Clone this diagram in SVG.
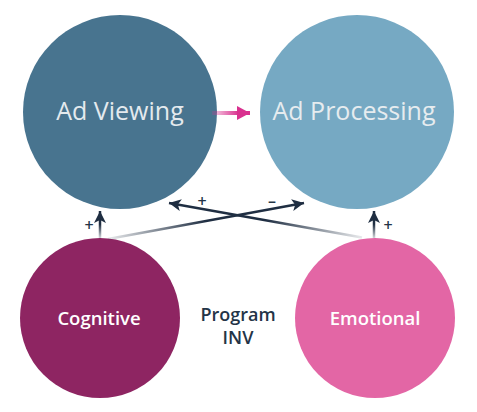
<svg xmlns="http://www.w3.org/2000/svg" width="477" height="412" viewBox="0 0 477 412">
<style>
.big{font-family:"Open Sans","Liberation Sans",sans-serif;font-size:25px;text-anchor:middle}
.small{font-family:"Open Sans","Liberation Sans",sans-serif;font-size:18.5px;font-weight:600;text-anchor:middle;fill:#ffffff}
.prog{font-family:"Open Sans","Liberation Sans",sans-serif;font-size:18px;font-weight:600;text-anchor:middle;fill:#243447}
.sign{font-family:"Open Sans","Liberation Sans",sans-serif;font-size:16px;font-weight:600;text-anchor:middle;fill:#243447}
.dk{stroke-width:2.5;fill:none}
</style>
<defs>
<marker id="ah" markerUnits="userSpaceOnUse" markerWidth="14" markerHeight="14" refX="12" refY="6" orient="auto">
<polygon points="0,0 12,6 0,12 3,6" fill="#1f2e42"/>
</marker>
<marker id="ahp" markerUnits="userSpaceOnUse" markerWidth="16" markerHeight="16" refX="13" refY="7" orient="auto">
<polygon points="0,0 13,7 0,14" fill="#d9318f"/>
</marker>
<linearGradient id="g1" gradientUnits="userSpaceOnUse" x1="108" y1="239" x2="304" y2="203">
<stop offset="0" stop-color="#1f2e42" stop-opacity="0.1"/><stop offset="0.5" stop-color="#1f2e42"/><stop offset="1" stop-color="#1f2e42"/>
</linearGradient>
<linearGradient id="g2" gradientUnits="userSpaceOnUse" x1="362" y1="237.5" x2="169" y2="203">
<stop offset="0" stop-color="#1f2e42" stop-opacity="0.1"/><stop offset="0.5" stop-color="#1f2e42"/><stop offset="1" stop-color="#1f2e42"/>
</linearGradient>
<linearGradient id="gv" gradientUnits="userSpaceOnUse" x1="0" y1="238" x2="0" y2="215">
<stop offset="0" stop-color="#1f2e42" stop-opacity="0.2"/><stop offset="0.6" stop-color="#1f2e42"/><stop offset="1" stop-color="#1f2e42"/>
</linearGradient>
<linearGradient id="gp" gradientUnits="userSpaceOnUse" x1="212" y1="0" x2="250" y2="0">
<stop offset="0" stop-color="#d9318f" stop-opacity="0.2"/><stop offset="0.7" stop-color="#d9318f"/><stop offset="1" stop-color="#d9318f"/>
</linearGradient>
</defs>
<g id="ad-viewing">
<circle cx="120" cy="112" r="97" fill="#48748f"/>
<text x="120" y="120" class="big" fill="#e4eaee">Ad Viewing</text>
</g>
<g id="ad-processing">
<circle cx="357" cy="112" r="97" fill="#76a9c3"/>
<text x="354" y="120" class="big" fill="#e6ecef">Ad Processing</text>
</g>
<g id="cognitive">
<circle cx="100" cy="318" r="80" fill="#8e2562"/>
<text x="99" y="325" class="small">Cognitive</text>
</g>
<g id="emotional">
<circle cx="375" cy="318" r="80" fill="#e366a5"/>
<text x="375" y="325" class="small">Emotional</text>
</g>
<g id="program-inv">
<text x="238" y="321" class="prog">Program</text>
<text x="238" y="344" class="prog">INV</text>
</g>
<g id="connectors">
<line x1="212" y1="113" x2="250" y2="113" stroke="url(#gp)" stroke-width="4" marker-end="url(#ahp)"/>
<line x1="108" y1="239" x2="304" y2="203" stroke="url(#g1)" class="dk" marker-end="url(#ah)"/>
<line x1="362" y1="237.5" x2="169" y2="203" stroke="url(#g2)" class="dk" marker-end="url(#ah)"/>
<line x1="100" y1="238" x2="100" y2="211" stroke="url(#gv)" class="dk" marker-end="url(#ah)"/>
<line x1="374" y1="238" x2="374" y2="211" stroke="url(#gv)" class="dk" marker-end="url(#ah)"/>
<text x="89" y="231" class="sign">+</text>
<text x="388" y="231" class="sign">+</text>
<text x="202" y="207" class="sign">+</text>
<text x="272" y="207" class="sign">–</text>
</g>
</svg>
